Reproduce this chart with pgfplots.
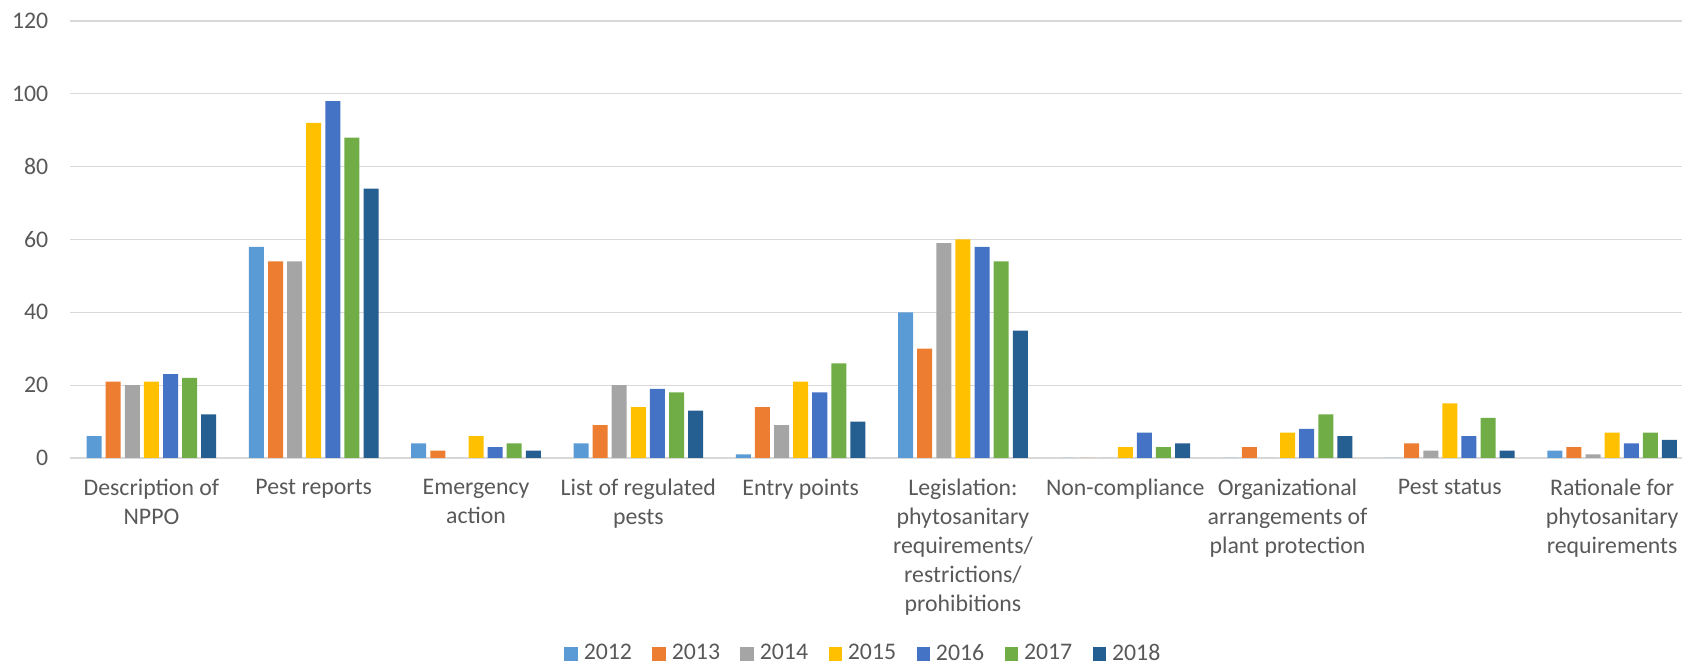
\documentclass[border=0pt]{standalone}
\usepackage{pgfplots}
\pgfplotsset{compat=1.18}
\usepackage{pgfplotstable}
\usepackage{fontspec}
\setmainfont{Carlito}
\definecolor{c12}{HTML}{5B9BD5}
\definecolor{c13}{HTML}{ED7D31}
\definecolor{c14}{HTML}{A5A5A5}
\definecolor{c15}{HTML}{FFC000}
\definecolor{c16}{HTML}{4472C4}
\definecolor{c17}{HTML}{70AD47}
\definecolor{c18}{HTML}{255E91}
\definecolor{gridgray}{HTML}{D9D9D9}
\definecolor{labelgray}{HTML}{595959}
\pgfplotstableread{
x y12 y13 y14 y15 y16 y17 y18
0 6 21 20 21 23 22 12
1 58 54 54 92 98 88 74
2 4 2 0 6 3 4 2
3 4 9 20 14 19 18 13
4 1 14 9 21 18 26 10
5 40 30 59 60 58 54 35
6 0 0 0 3 7 3 4
7 0 3 0 7 8 12 6
8 0 4 2 15 6 11 2
9 2 3 1 7 4 7 5
}\datatable
\begin{document}
\begin{tikzpicture}
\path[use as bounding box] (-35.15pt,-105pt) rectangle (805.85pt,229pt);
\begin{axis}[
  at={(0pt,0pt)}, anchor=south west,
  scale only axis, width=811.5pt, height=218.5pt,
  ybar=2.05pt, bar width=7.5pt,
  xmin=-0.5, xmax=9.5, ymin=0, ymax=120,
  ytick={0,20,...,120},
  xtick={0,...,9},
  xticklabels={{Description of\\NPPO},{Pest reports},{Emergency\\action},{List of regulated\\pests},{Entry points},{Legislation:\\phytosanitary\\requirements/\\restrictions/\\prohibitions},{Non-compliance},{Organizational\\arrangements of\\plant protection},{Pest status},{Rationale for\\phytosanitary\\requirements}},
  ymajorgrids, grid style={draw=gridgray, line width=0.6pt},
  axis line style={draw=none},
  major tick length=0pt,
  /pgf/number format/assume math mode=true,
  tick label style={font=\fontsize{11.9}{14.5}\selectfont, text=labelgray},
  yticklabel style={xshift=-7.5pt},
  xticklabel style={align=center, anchor=north, yshift=-7pt},
  legend style={at={(0.488,-0.448)}, anchor=center, draw=none, fill=none,
    legend columns=-1, font=\fontsize{11.9}{14.5}\selectfont, text=labelgray,
    nodes={inner sep=0pt},
    /tikz/every odd column/.append style={column sep=2.9pt},
    /tikz/every even column/.append style={column sep=10.2pt}},
  legend image code/.code={\fill[#1] (0pt,-3.4pt) rectangle (6.8pt,3.4pt);},
]
\addplot[fill=c12, draw=none] table[x=x, y=y12] {\datatable};
\addplot[fill=c13, draw=none] table[x=x, y=y13] {\datatable};
\addplot[fill=c14, draw=none] table[x=x, y=y14] {\datatable};
\addplot[fill=c15, draw=none] table[x=x, y=y15] {\datatable};
\addplot[fill=c16, draw=none] table[x=x, y=y16] {\datatable};
\addplot[fill=c17, draw=none] table[x=x, y=y17] {\datatable};
\addplot[fill=c18, draw=none] table[x=x, y=y18] {\datatable};
\legend{2012,2013,2014,2015,2016,2017,2018}
\end{axis}
\end{tikzpicture}
\end{document}
